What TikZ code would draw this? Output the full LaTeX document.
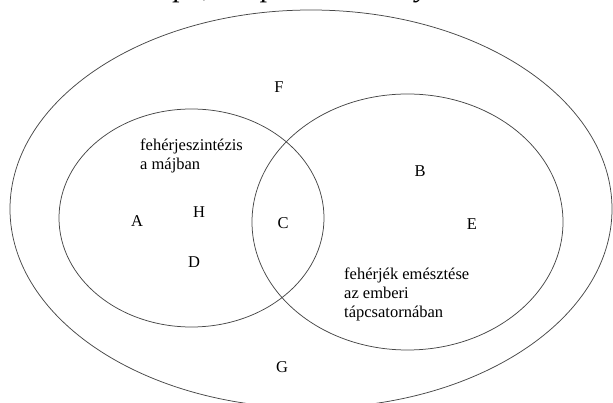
\documentclass[tikz,border=0pt]{standalone}
\usepackage{fontspec}
\setmainfont{Liberation Serif}
\begin{document}
\begin{tikzpicture}[x=1pt,y=-1pt,
  setline/.style={draw=black!72,line width=0.75pt},
  lbl/.style={inner sep=0pt,font=\fontsize{16.5}{19}\selectfont},
  grouplbl/.style={lbl,align=left,anchor=west}]
\useasboundingbox (0,0) rectangle (613,403);
\clip (0,0) rectangle (613,403);
% cut-off line of the text above the figure
\node[inner sep=0pt,anchor=base west,font=\fontsize{30}{30}\selectfont\itshape] (toptext) at (30,-3) {a csak e scope, ae ipue to uee toy uca. uee};
% sets
\draw[setline] (311,209) ellipse [x radius=301pt,y radius=199pt];
\draw[setline] (191.5,218) ellipse [x radius=132.5pt,y radius=109pt];
\draw[setline] (407.5,222) ellipse [x radius=155.5pt,y radius=128pt];
% labels
\node[grouplbl] (synth) at (140,155.5) {fehérjeszintézis\\a májban};
\node[grouplbl] (dig) at (344,294) {fehérjék emésztése\\az emberi\\tápcsatornában};
\node[lbl] (F) at (279,87) {F};
\node[lbl] (A) at (137,221) {A};
\node[lbl] (H) at (199,212) {H};
\node[lbl] (D) at (194,262) {D};
\node[lbl] (C) at (283,223) {C};
\node[lbl] (B) at (420,171) {B};
\node[lbl] (E) at (472,224) {E};
\node[lbl] (G) at (282,367) {G};
\end{tikzpicture}
\end{document}
